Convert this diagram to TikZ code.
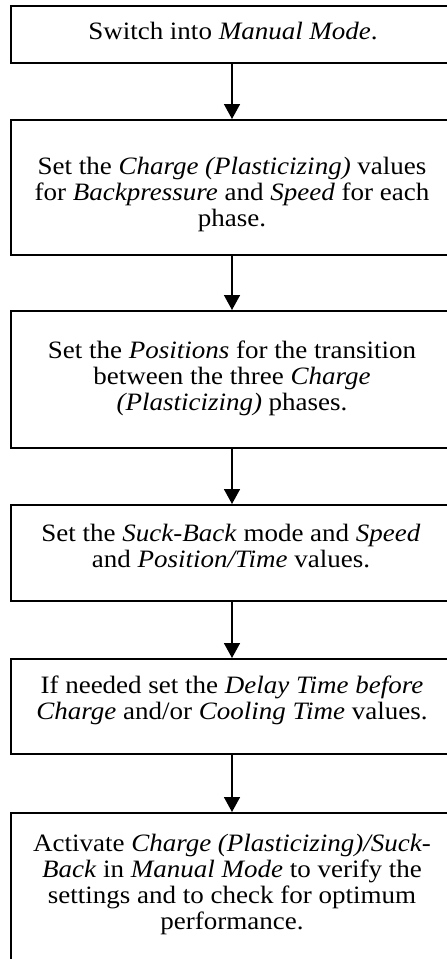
\documentclass[tikz,border=0pt]{standalone}
\usepackage{fontspec}
\setmainfont{Liberation Serif}[FakeStretch=1.08]
\usetikzlibrary{arrows.meta}
\tikzset{
  stepbox/.style={draw=black, line width=1.6pt, rectangle, inner sep=0pt,
    minimum width=445pt, anchor=north west},
  steptext/.style={align=center, inner sep=0pt,
    font=\fontsize{25}{26}\selectfont},
  flow/.style={line width=1.6pt, -{Triangle[width=16pt,length=15pt]}}
}
\begin{document}
\begin{tikzpicture}[x=1pt,y=-1pt]
  \useasboundingbox (0,0) rectangle (447,959);
  \clip (0,0) rectangle (447,959);
  % boxes (the right edges and the last bottom edge lie outside the page)
  \node[stepbox, minimum height=57pt]  (b1) at (10,5) {};
  \node[stepbox, minimum height=135pt] (b2) at (10,119) {};
  \node[stepbox, minimum height=137pt] (b3) at (10,310) {};
  \node[stepbox, minimum height=96pt]  (b4) at (10,504) {};
  \node[stepbox, minimum height=95pt]  (b5) at (10,658) {};
  \node[stepbox, minimum height=200pt] (b6) at (10,812) {};
  % texts
  \node[steptext] (t1) at (233,31) {Switch into \textit{Manual Mode}.};
  \node[steptext] (t2) at (232,194) {Set the \textit{Charge (Plasticizing)} values\\
    for \textit{Backpressure} and \textit{Speed} for each\\ phase.};
  \node[steptext] (t3) at (232,378) {Set the \textit{Positions} for the transition\\
    between the three \textit{Charge}\\ \textit{(Plasticizing)} phases.};
  \node[steptext] (t4) at (231,546) {Set the \textit{Suck-Back} mode and \textit{Speed}\\
    and \textit{Position/Time} values.};
  \node[steptext] (t5) at (232,700) {If needed set the \textit{Delay Time before}\\
    \textit{Charge} and/or \textit{Cooling Time} values.};
  \node[steptext] (t6) at (232,884) {Activate \textit{Charge (Plasticizing)/Suck-}\\
    \textit{Back} in \textit{Manual Mode} to verify the\\
    settings and to check for optimum\\ performance.};
  % connectors
  \draw[flow] (232,0 |- b1.south) -- (232,0 |- b2.north);
  \draw[flow] (232,0 |- b2.south) -- (232,0 |- b3.north);
  \draw[flow] (232,0 |- b3.south) -- (232,0 |- b4.north);
  \draw[flow] (232,0 |- b4.south) -- (232,0 |- b5.north);
  \draw[flow] (232,0 |- b5.south) -- (232,0 |- b6.north);
\end{tikzpicture}
\end{document}
